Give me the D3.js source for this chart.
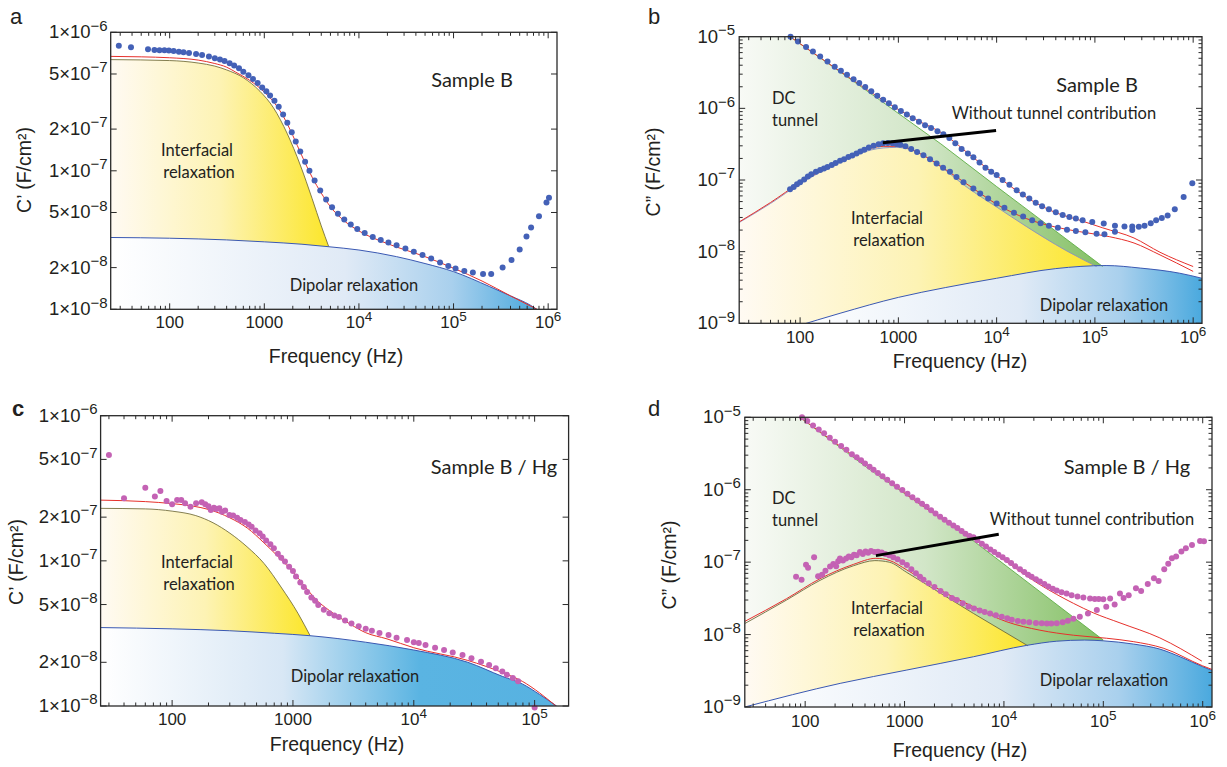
<!DOCTYPE html>
<html><head><meta charset="utf-8">
<script src="https://cdn.jsdelivr.net/npm/d3@7"></script>
<style>body{margin:0;background:#fff}svg{display:block}</style>
</head><body>
<svg id="chart" width="1227" height="767"></svg>
<script>
// ================= DATA (frequency Hz, capacitance F/cm2) =================
// ---- panel a : C' Sample B ----
const aData = [[29,8.0e-7],[39,7.8e-7],[59,7.55e-7],[69,7.45e-7],[78,7.43e-7],[88,7.42e-7],[98,7.4e-7],[110,7.32e-7],[125,7.25e-7],[140,7.18e-7],[160,7.08e-7],[190,6.98e-7],[220,6.85e-7],[260,6.7e-7],[300,6.5e-7],[340,6.35e-7],[380,6.2e-7],[430,5.98e-7],[480,5.75e-7],[540,5.5e-7],[600,5.2e-7],[680,4.9e-7],[760,4.6e-7],[850,4.3e-7],[950,4.0e-7],[1050,3.75e-7],[1150,3.5e-7],[1280,3.2e-7],[1420,2.9e-7],[1580,2.55e-7],[1750,2.22e-7],[1950,1.9e-7],[2150,1.63e-7],[2400,1.38e-7],[2700,1.16e-7],[3000,1.0e-7],[3400,8.5e-8],[3900,7.2e-8],[4500,6.2e-8],[5200,5.45e-8],[6000,4.9e-8],[7000,4.45e-8],[8200,4.1e-8],[9600,3.8e-8],[11500,3.55e-8],[14000,3.33e-8],[17000,3.17e-8],[20500,3.03e-8],[25000,2.9e-8],[31000,2.75e-8],[38000,2.6e-8],[47000,2.47e-8],[58000,2.33e-8],[72000,2.18e-8],[88000,2.05e-8],[105000,1.97e-8],[130000,1.89e-8],[160000,1.84e-8],[205000,1.8e-8],[250000,1.8e-8],[330000,2.0e-8],[410000,2.27e-8],[500000,2.7e-8],[590000,3.35e-8],[660000,3.9e-8],[800000,4.7e-8],[960000,5.9e-8],[1020000,6.4e-8]];
const aFit = [[23.8,6.7e-7],[50,6.65e-7],[100,6.55e-7],[200,6.3e-7],[300,5.95e-7],[400,5.6e-7],[500,5.15e-7],[700,4.5e-7],[1000,3.7e-7],[1300,3.05e-7],[1600,2.45e-7],[2000,1.8e-7],[2500,1.28e-7],[3200,9.0e-8],[4000,6.9e-8],[5000,5.5e-8],[7000,4.35e-8],[10000,3.68e-8],[20000,2.98e-8],[50000,2.4e-8],[100000,1.98e-8],[200000,1.6e-8],[400000,1.25e-8],[760000,1.0e-8]];
const aInterfacial = [[23.8,6.35e-7],[100,6.25e-7],[200,6.0e-7],[300,5.7e-7],[400,5.35e-7],[600,4.7e-7],[900,3.75e-7],[1250,2.85e-7],[1750,1.85e-7],[2400,1.1e-7],[3200,6.3e-8],[4000,4.0e-8],[4800,2.83e-8]];
const aDipolar = [[23.8,3.3e-8],[100,3.26e-8],[400,3.17e-8],[1000,3.07e-8],[2500,2.95e-8],[4800,2.83e-8],[10000,2.68e-8],[25000,2.4e-8],[50000,2.14e-8],[100000,1.87e-8],[240000,1.46e-8],[400000,1.25e-8],[650000,1.07e-8],[760000,1.0e-8]];

// ---- panel b : C'' Sample B ----
const bDataTotal = [[80,1.0e-5],[95,8.6e-6],[115,7.2e-6],[135,6.2e-6],[160,5.3e-6],[190,4.5e-6],[225,3.8e-6],[260,3.35e-6],[300,2.95e-6],[350,2.55e-6],[400,2.25e-6],[460,1.98e-6],[530,1.73e-6],[610,1.5e-6],[700,1.32e-6],[800,1.18e-6],[920,1.04e-6],[1060,9.2e-7],[1220,8.2e-7],[1400,7.3e-7],[1620,6.5e-7],[1870,5.8e-7],[2150,5.3e-7],[2500,4.8e-7],[2870,4.35e-7],[3300,3.85e-7],[3800,3.25e-7],[4400,2.7e-7],[5100,2.35e-7],[5800,2.07e-7],[6700,1.75e-7],[7700,1.48e-7],[8800,1.3e-7],[10000,1.17e-7],[11500,1.0e-7],[13500,8.6e-8],[16000,7.2e-8],[18500,6.3e-8],[21500,5.5e-8],[25000,4.8e-8],[29000,4.3e-8],[34000,3.9e-8],[40000,3.55e-8],[47000,3.25e-8],[55000,3.05e-8],[64000,2.9e-8],[75000,2.75e-8],[94000,2.6e-8],[123000,2.48e-8],[160000,2.3e-8],[200000,2.25e-8],[240000,2.24e-8],[280000,2.22e-8],[320000,2.3e-8],[370000,2.5e-8],[420000,2.75e-8],[480000,2.95e-8],[550000,3.2e-8],[650000,3.9e-8],[800000,5.8e-8],[980000,9.0e-8]];
const bDataNoTunnel = [[79,7.4e-8],[86,8.0e-8],[93,8.7e-8],[100,9.3e-8],[110,1.02e-7],[120,1.12e-7],[130,1.2e-7],[145,1.3e-7],[160,1.38e-7],[175,1.45e-7],[190,1.52e-7],[210,1.62e-7],[230,1.72e-7],[255,1.85e-7],[280,1.95e-7],[310,2.1e-7],[340,2.2e-7],[375,2.35e-7],[410,2.5e-7],[450,2.65e-7],[500,2.85e-7],[560,3.0e-7],[630,3.15e-7],[700,3.25e-7],[780,3.28e-7],[870,3.25e-7],[960,3.18e-7],[1050,3.1e-7],[1180,2.95e-7],[1350,2.7e-7],[1550,2.45e-7],[1800,2.22e-7],[2100,1.95e-7],[2450,1.7e-7],[2850,1.48e-7],[3350,1.3e-7],[3900,1.1e-7],[4600,9.3e-8],[5800,7.6e-8],[6800,6.5e-8],[8200,5.5e-8],[10000,4.7e-8],[12000,4.1e-8],[15000,3.5e-8],[18600,3.1e-8],[23000,2.75e-8],[28000,2.5e-8],[34000,2.3e-8],[42000,2.15e-8],[52000,2.02e-8],[64000,1.94e-8],[80000,1.86e-8],[104000,1.78e-8],[125000,1.75e-8],[160000,1.9e-8],[240000,2.0e-8]];
const bFitTotal = [[79,1.0e-5],[250,3.35e-6],[700,1.3e-6],[1500,7.0e-7],[2870,4.4e-7],[5800,2.05e-7],[10000,1.15e-7],[20000,5.75e-8],[40000,3.5e-8],[70000,2.75e-8],[120000,2.15e-8],[250000,1.55e-8],[460000,9.8e-9],[1000000,6.2e-9]];
const bFitNoTunnel = [[24,2.6e-8],[50,4.85e-8],[100,9.2e-8],[200,1.55e-7],[400,2.45e-7],[700,2.95e-7],[1000,2.95e-7],[1800,2.2e-7],[3350,1.27e-7],[5800,7.6e-8],[10000,4.6e-8],[20000,2.9e-8],[40000,2.2e-8],[70000,1.9e-8],[140000,1.62e-8],[250000,1.32e-8],[460000,9.0e-9],[1000000,5.3e-9]];
const bTunnel = [[24,3.2e-5],[79,1.0e-5],[250,3.3e-6],[650,1.3e-6],[2700,3.2e-7],[10000,8.1e-8],[120000,6.2e-9]];
const bInterfacial = [[24,2.55e-8],[50,4.7e-8],[100,8.9e-8],[200,1.5e-7],[400,2.35e-7],[700,2.8e-7],[950,2.85e-7],[1400,2.6e-7],[2650,1.55e-7],[5000,7.9e-8],[10000,4.2e-8],[20000,2.25e-8],[50000,1.05e-8],[104000,6.2e-9]];
const bDipolar = [[90,9.0e-10],[255,1.38e-9],[1000,2.3e-9],[3000,3.15e-9],[10000,4.25e-9],[40000,5.8e-9],[130000,6.4e-9],[290000,5.9e-9],[730000,5.0e-9],[1230000,4.25e-9]];
const bPointer = [[695,3.3e-7],[9870,4.9e-7]];

// ---- panel c : C' Sample B / Hg ----
const cData = [[30,5.36e-7],[40,2.7e-7],[60,3.19e-7],[72,2.77e-7],[80,3.03e-7],[90,2.58e-7],[100,2.45e-7],[110,2.63e-7],[119,2.63e-7],[128,2.49e-7],[142,2.36e-7],[158,2.49e-7],[176,2.53e-7],[188,2.45e-7],[200,2.38e-7],[209,2.24e-7],[222,2.32e-7],[233,2.28e-7],[246,2.3e-7],[259,2.18e-7],[275,2.22e-7],[298,2.07e-7],[320,2.05e-7],[345,1.98e-7],[368,1.91e-7],[400,1.85e-7],[430,1.78e-7],[455,1.72e-7],[490,1.62e-7],[530,1.55e-7],[562,1.47e-7],[600,1.38e-7],[650,1.3e-7],[695,1.22e-7],[750,1.12e-7],[800,1.05e-7],[859,9.9e-8],[930,9.1e-8],[1000,8.5e-8],[1060,7.8e-8],[1150,7.1e-8],[1230,6.6e-8],[1310,6.1e-8],[1420,5.6e-8],[1525,5.3e-8],[1620,4.97e-8],[1800,4.6e-8],[2000,4.35e-8],[2200,4.2e-8],[2400,4.1e-8],[2700,3.88e-8],[3050,3.7e-8],[3500,3.55e-8],[4000,3.4e-8],[4500,3.3e-8],[5200,3.18e-8],[6180,3.08e-8],[7200,2.95e-8],[8790,2.85e-8],[10000,2.75e-8],[11000,2.72e-8],[12500,2.63e-8],[15000,2.52e-8],[17800,2.43e-8],[21000,2.34e-8],[25300,2.25e-8],[30000,2.13e-8],[36000,2.02e-8],[42000,1.92e-8],[47700,1.82e-8],[54000,1.73e-8],[59000,1.64e-8],[66000,1.56e-8],[73000,1.48e-8],[100000,9.75e-9]];
const cFit = [[25.6,2.62e-7],[60,2.56e-7],[100,2.48e-7],[150,2.38e-7],[200,2.26e-7],[300,1.98e-7],[420,1.68e-7],[576,1.33e-7],[780,1.04e-7],[1000,8.4e-8],[1250,6.7e-8],[1525,5.5e-8],[2000,4.55e-8],[2400,4.1e-8],[3000,3.65e-8],[4000,3.2e-8],[6000,2.9e-8],[10000,2.52e-8],[28000,2.06e-8],[54000,1.7e-8],[79000,1.48e-8],[110000,1.23e-8],[150000,1.0e-8]];
const cInterfacial = [[25.6,2.3e-7],[60,2.28e-7],[100,2.2e-7],[157,2.05e-7],[218,1.83e-7],[301,1.55e-7],[417,1.25e-7],[576,9.6e-8],[797,6.6e-8],[1100,4.35e-8],[1387,3.05e-8]];
const cDipolar = [[25.6,3.47e-8],[100,3.4e-8],[300,3.3e-8],[700,3.17e-8],[1387,3.05e-8],[4000,2.75e-8],[10000,2.43e-8],[28000,2.0e-8],[54000,1.6e-8],[79000,1.42e-8],[110000,1.2e-8],[152000,1.0e-8]];

// ---- panel d : C'' Sample B / Hg ----
const dDataTotal = [[93,1.0e-5],[105,8.9e-6],[120,7.7e-6],[137,6.8e-6],[155,6.0e-6],[177,5.2e-6],[200,4.6e-6],[230,4.0e-6],[260,3.55e-6],[295,3.1e-6],[330,2.8e-6],[365,2.55e-6],[400,2.3e-6],[445,2.07e-6],[488,1.88e-6],[540,1.7e-6],[600,1.53e-6],[670,1.37e-6],[750,1.23e-6],[840,1.1e-6],[950,9.9e-7],[1070,8.8e-7],[1200,7.9e-7],[1350,7.1e-7],[1500,6.4e-7],[1670,5.8e-7],[1850,5.2e-7],[2050,4.7e-7],[2280,4.24e-7],[2530,3.85e-7],[2800,3.5e-7],[3100,3.2e-7],[3400,2.95e-7],[3750,2.7e-7],[4100,2.47e-7],[4500,2.3e-7],[4930,2.2e-7],[5400,2.0e-7],[6000,1.8e-7],[6600,1.64e-7],[7300,1.5e-7],[8000,1.38e-7],[8800,1.27e-7],[9700,1.17e-7],[10700,1.07e-7],[11800,9.7e-8],[13000,8.8e-8],[14500,8.0e-8],[16000,7.3e-8],[17500,6.7e-8],[19000,6.3e-8],[21000,5.8e-8],[23000,5.4e-8],[25500,5.0e-8],[28000,4.6e-8],[31000,4.3e-8],[34000,4.05e-8],[38000,3.85e-8],[42700,3.7e-8],[48000,3.5e-8],[55000,3.35e-8],[63000,3.25e-8],[73500,3.16e-8],[82000,3.1e-8],[90000,3.1e-8],[100000,3.08e-8],[117000,3.16e-8],[147000,3.7e-8],[160000,3.2e-8],[180000,3.5e-8],[213000,4.35e-8],[240000,4.0e-8],[280000,5.0e-8],[323000,6.0e-8],[360000,5.5e-8],[410000,8.0e-8],[450000,9.5e-8],[490000,1.13e-7],[540000,1.2e-7],[610000,1.4e-7],[677000,1.55e-7],[780000,1.73e-7],[940000,1.96e-7],[1030000,1.94e-7]];
const dDataNoTunnel = [[81,6.3e-8],[92,5.7e-8],[102,9.2e-8],[107,8.4e-8],[123,1.17e-7],[135,6.4e-8],[148,6.7e-8],[160,7.6e-8],[178,8.7e-8],[192,9.4e-8],[205,8.8e-8],[215,1.03e-7],[224,1.12e-7],[240,1.05e-7],[258,1.12e-7],[275,1.2e-7],[292,1.17e-7],[310,1.27e-7],[330,1.25e-7],[356,1.38e-7],[380,1.3e-7],[405,1.4e-7],[430,1.35e-7],[460,1.42e-7],[500,1.38e-7],[540,1.39e-7],[590,1.36e-7],[640,1.3e-7],[700,1.25e-7],[770,1.17e-7],[850,1.1e-7],[950,1.0e-7],[1055,9.1e-8],[1170,8.0e-8],[1300,7.0e-8],[1430,6.3e-8],[1553,5.7e-8],[1750,5.1e-8],[2000,4.55e-8],[2300,4.0e-8],[2600,3.6e-8],[3000,3.2e-8],[3360,3.0e-8],[3850,2.7e-8],[4400,2.45e-8],[5000,2.3e-8],[5700,2.15e-8],[6400,2.05e-8],[7260,1.96e-8],[8300,1.85e-8],[9500,1.76e-8],[10800,1.68e-8],[12000,1.6e-8],[13800,1.54e-8],[15700,1.5e-8],[18000,1.48e-8],[21000,1.45e-8],[24000,1.43e-8],[27000,1.42e-8],[30000,1.42e-8],[34000,1.43e-8],[39000,1.48e-8],[44000,1.55e-8],[50000,1.65e-8],[58000,1.76e-8],[70000,1.95e-8],[86000,2.18e-8],[107000,2.42e-8],[130000,2.6e-8]];
const dFitTotal = [[88.6,1.0e-5],[488,1.85e-6],[2280,4.1e-7],[4930,2.1e-7],[10700,1.0e-7],[23000,4.9e-8],[50000,2.7e-8],[79000,2.0e-8],[147000,1.45e-8],[370000,9.0e-9],[980000,4.3e-9]];
const dFitNoTunnel = [[24.7,1.52e-8],[65,3.13e-8],[141,5.9e-8],[305,9.3e-8],[515,1.13e-7],[700,1.06e-7],[1055,7.8e-8],[2280,4.12e-8],[4930,2.42e-8],[10700,1.5e-8],[23000,1.15e-8],[50000,9.8e-9],[108000,8.9e-9],[200000,8.0e-9],[400000,6.5e-9],[1000000,3.7e-9],[1240000,3.3e-9]];
const dTunnel = [[24.7,3.6e-5],[88.6,1.0e-5],[452,1.87e-6],[4570,2.13e-7],[100000,8.4e-9]];
const dInterfacial = [[24.7,1.42e-8],[65,3.0e-8],[141,5.6e-8],[305,8.9e-8],[503,1.05e-7],[700,1.0e-7],[1055,7.2e-8],[2280,3.75e-8],[4930,1.96e-8],[10000,1.1e-8],[17400,7.0e-9]];
const dDipolar = [[24.7,1.0e-9],[225,2.12e-9],[1055,3.24e-9],[4930,4.94e-9],[17000,7.1e-9],[34000,8.1e-9],[65000,8.4e-9],[100000,8.2e-9],[200000,7.4e-9],[370000,6.3e-9],[600000,4.9e-9],[1000000,3.6e-9],[1240000,3.2e-9]];
const dPointer = [[515,1.23e-7],[8870,2.42e-7]];

// ---- ticks & labels ----
const xTicksWide = [100, 1000, 1e4, 1e5, 1e6];
const xTicksC = [100, 1000, 1e4, 1e5];
const yTicksReal = [1e-6, 5e-7, 2e-7, 1e-7, 5e-8, 2e-8, 1e-8];
const yTicksImag = [1e-5, 1e-6, 1e-7, 1e-8, 1e-9];
const panelLetters = ["a", "b", "c", "d"];
const sampleNames = ["Sample B", "Sample B", "Sample B / Hg", "Sample B / Hg"];
const yTitles = ["C\u2019 (F/cm\u00b2)", "C\u201d (F/cm\u00b2)", "C\u2019 (F/cm\u00b2)", "C\u201d (F/cm\u00b2)"];
const xTitle = "Frequency (Hz)";
const regionLabels = ["Interfacial", "relaxation", "Dipolar relaxation", "DC", "tunnel", "Without tunnel contribution"];

// ================= DRAWING =================
const svg = d3.select("#chart");
const defs = svg.append("defs");
const TICK_FONT = "'Liberation Sans', Arial, sans-serif";
const ANN_FONT = "Lato, 'Open Sans', sans-serif";
const INK = "#231f20";

const yellowStops = [[0, "#fffaf3"], [0.5, "#fdf3b4"], [1, "#fce62a"]];
const greenStops = [[0, "#f8faf6"], [0.5, "#d2e6c8"], [1, "#84c064"]];
const blueStopsWide = [[0, "#ffffff"], [0.55, "#e0eaf6"], [0.8, "#a9d0ed"], [1, "#4aa9de"]];
const blueStopsC = [[0, "#ffffff"], [0.4, "#d8e7f5"], [0.7, "#5ab4e2"], [1, "#57b2e1"]];

const panels = [
  {id: "a", idx: 0, left: 110.7, right: 557, top: 32.3, bottom: 309.3, xDomain: [23.8, 1.24e6], yDomain: [1e-8, 1e-6],
   xTicks: xTicksWide, yTicks: yTicksReal, real: true, data: [aData], fits: [aFit], interfacial: aInterfacial, dipolar: aDipolar,
   dotColor: "#4461b7", interColor: "#76703e", blueStops: blueStopsWide,
   letter: [10, 24], ytitle: [26, 170], sample: [472, 87], inter: [197, 156], dip: [354, 291], xtitle: [336, 363], xLabY: 328},
  {id: "b", idx: 1, left: 739.2, right: 1202, top: 36.7, bottom: 323.3, xDomain: [24.0, 1.23e6], yDomain: [1e-9, 1e-5],
   xTicks: xTicksWide, yTicks: yTicksImag, real: false, data: [bDataTotal, bDataNoTunnel], fits: [bFitTotal, bFitNoTunnel],
   interfacial: bInterfacial, dipolar: bDipolar, tunnel: bTunnel, pointer: bPointer,
   dotColor: "#4461b7", interColor: "#8a8fbf", blueStops: blueStopsWide,
   letter: [648, 24], ytitle: [655, 172], sample: [1097, 92], inter: [887, 224], dip: [1104, 311], dc: [772, 104], without: [1054, 119], xtitle: [960, 368], xLabY: 343},
  {id: "c", idx: 2, left: 100.6, right: 568.6, top: 415.7, bottom: 706, xDomain: [25.6, 1.91e5], yDomain: [1e-8, 1e-6],
   xTicks: xTicksC, yTicks: yTicksReal, real: true, data: [cData], fits: [cFit], interfacial: cInterfacial, dipolar: cDipolar,
   dotColor: "#c462b4", interColor: "#76703e", blueStops: blueStopsC,
   letter: [12, 416], ytitle: [18, 562], sample: [494, 474], inter: [197, 568], dip: [355, 682], xtitle: [337, 751], xLabY: 725},
  {id: "d", idx: 3, left: 744.8, right: 1212, top: 417.3, bottom: 707, xDomain: [24.7, 1.24e6], yDomain: [1e-9, 1e-5],
   xTicks: xTicksWide, yTicks: yTicksImag, real: false, data: [dDataTotal, dDataNoTunnel], fits: [dFitTotal, dFitNoTunnel],
   interfacial: dInterfacial, dipolar: dDipolar, tunnel: dTunnel, pointer: dPointer,
   dotColor: "#c462b4", interColor: "#6e6a3c", blueStops: blueStopsWide,
   letter: [648, 416], ytitle: [671, 565], sample: [1127, 474], inter: [887, 614], dip: [1104, 686], dc: [772, 504], without: [1092, 525], xtitle: [960, 757], xLabY: 727}
];

function gradient(id, stops) {
  const lg = defs.append("linearGradient").attr("id", id).attr("x1", 0).attr("x2", 1).attr("y1", 0).attr("y2", 0);
  stops.forEach(s => lg.append("stop").attr("offset", s[0]).attr("stop-color", s[1]));
  return `url(#${id})`;
}

function supText(sel, x, y, base, sup, anchor, size, supSize) {
  const t = sel.append("text").attr("x", x).attr("y", y).attr("text-anchor", anchor)
    .attr("font-family", TICK_FONT).attr("font-size", size).attr("fill", INK);
  t.append("tspan").text(base);
  if (sup) t.append("tspan").attr("dy", -0.42 * size).attr("font-size", supSize).text(sup);
  return t;
}

function annText(sel, x, y, str, anchor, size) {
  return sel.append("text").attr("x", x).attr("y", y).attr("text-anchor", anchor)
    .attr("font-family", ANN_FONT).attr("font-size", size).attr("fill", INK).text(str);
}

panels.forEach(p => {
  const x = d3.scaleLog().domain(p.xDomain).range([p.left, p.right]);
  const y = d3.scaleLog().domain(p.yDomain).range([p.bottom, p.top]);
  const g = svg.append("g");
  const clipId = "clip-" + p.id;
  defs.append("clipPath").attr("id", clipId).append("rect")
    .attr("x", p.left).attr("y", p.top).attr("width", p.right - p.left).attr("height", p.bottom - p.top);
  const plot = g.append("g").attr("clip-path", `url(#${clipId})`);
  const fx = d => x(d[0]), fy = d => y(d[1]);
  const areaSmooth = d3.area().x(fx).y0(p.bottom).y1(fy).curve(d3.curveMonotoneX);
  const areaStraight = d3.area().x(fx).y0(p.bottom).y1(fy).curve(d3.curveLinear);
  const lineSmooth = d3.line().x(fx).y(fy).curve(d3.curveMonotoneX);
  const lineStraight = d3.line().x(fx).y(fy).curve(d3.curveLinear);

  // filled regions
  if (p.tunnel) plot.append("path").datum(p.tunnel).attr("d", areaStraight).attr("fill", gradient(p.id + "-green", greenStops));
  plot.append("path").datum(p.interfacial).attr("d", areaSmooth).attr("fill", gradient(p.id + "-yellow", yellowStops));
  plot.append("path").datum(p.dipolar).attr("d", areaSmooth).attr("fill", gradient(p.id + "-blue", p.blueStops));

  // boundary lines
  if (p.tunnel) plot.append("path").datum(p.tunnel).attr("d", lineStraight).attr("fill", "none").attr("stroke", "#5fae45").attr("stroke-width", 0.9);
  plot.append("path").datum(p.interfacial).attr("d", lineSmooth).attr("fill", "none").attr("stroke", p.interColor).attr("stroke-width", 0.9);
  plot.append("path").datum(p.dipolar).attr("d", lineSmooth).attr("fill", "none").attr("stroke", "#3a58b2").attr("stroke-width", 1);

  // measured points
  p.data.forEach(series => {
    g.append("g").selectAll("circle").data(series).join("circle")
      .attr("cx", fx).attr("cy", fy).attr("r", 3).attr("fill", p.dotColor);
  });

  // fits
  p.fits.forEach(series => {
    plot.append("path").datum(series).attr("d", lineSmooth).attr("fill", "none").attr("stroke", "#e6302b").attr("stroke-width", 1);
  });

  // pointer
  if (p.pointer) g.append("path").datum(p.pointer).attr("d", lineStraight).attr("stroke", "#000").attr("stroke-width", 3).attr("fill", "none");

  // frame
  g.append("rect").attr("x", p.left).attr("y", p.top).attr("width", p.right - p.left).attr("height", p.bottom - p.top)
    .attr("fill", "none").attr("stroke", "#2a2a2a").attr("stroke-width", 1.3);

  // ticks
  const tk = g.append("g").attr("stroke", "#2a2a2a").attr("stroke-width", 1);
  const lo = Math.floor(Math.log10(p.xDomain[0])), hi = Math.ceil(Math.log10(p.xDomain[1]));
  for (let k = lo; k <= hi; k++) {
    for (let m = 1; m <= 9; m++) {
      const v = m * Math.pow(10, k);
      if (v < p.xDomain[0] || v > p.xDomain[1]) continue;
      const len = m === 1 ? 6 : 3.5, xx = x(v);
      tk.append("line").attr("x1", xx).attr("x2", xx).attr("y1", p.bottom).attr("y2", p.bottom - len);
      tk.append("line").attr("x1", xx).attr("x2", xx).attr("y1", p.top).attr("y2", p.top + len);
    }
  }
  if (p.real) {
    p.yTicks.forEach(v => {
      const yy = y(v);
      tk.append("line").attr("x1", p.left).attr("x2", p.left + 6).attr("y1", yy).attr("y2", yy);
      tk.append("line").attr("x1", p.right).attr("x2", p.right - 6).attr("y1", yy).attr("y2", yy);
    });
  } else {
    const ylo = Math.round(Math.log10(p.yDomain[0])), yhi = Math.round(Math.log10(p.yDomain[1]));
    for (let k = ylo; k <= yhi; k++) {
      for (let m = 1; m <= 9; m++) {
        const v = m * Math.pow(10, k);
        if (v > p.yDomain[1] * 1.0001) continue;
        const len = m === 1 ? 6 : 3.5, yy = y(v);
        tk.append("line").attr("x1", p.left).attr("x2", p.left + len).attr("y1", yy).attr("y2", yy);
        tk.append("line").attr("x1", p.right).attr("x2", p.right - len).attr("y1", yy).attr("y2", yy);
      }
    }
  }

  // tick labels
  p.xTicks.forEach(v => {
    const e = Math.round(Math.log10(v));
    if (e < 4) supText(g, x(v), p.xLabY, String(v), null, "middle", 17, 12);
    else supText(g, x(v), p.xLabY, "10", String(e), "middle", 17, 13.5);
  });
  p.yTicks.forEach(v => {
    const e = Math.floor(Math.log10(v) + 1e-9);
    const mant = Math.round(v / Math.pow(10, e));
    if (p.real) supText(g, p.left - 3, y(v) + 6, mant + "\u00d710", "\u2212" + (-e), "end", 18.5, 15);
    else supText(g, p.left - 4, y(v) + 6, "10", "\u2212" + (-e), "end", 18.5, 15);
  });

  // titles
  g.append("text").attr("x", p.letter[0]).attr("y", p.letter[1]).attr("font-family", TICK_FONT)
    .attr("font-size", 22).attr("font-weight", p.id === "c" ? "bold" : "normal").attr("fill", INK).text(panelLetters[p.idx]);
  g.append("text").attr("transform", `translate(${p.ytitle[0]},${p.ytitle[1]}) rotate(-90)`).attr("text-anchor", "middle")
    .attr("dominant-baseline", "middle").attr("font-family", TICK_FONT).attr("font-size", 19.5).attr("fill", INK).text(yTitles[p.idx]);
  g.append("text").attr("x", p.xtitle[0]).attr("y", p.xtitle[1]).attr("text-anchor", "middle")
    .attr("font-family", TICK_FONT).attr("font-size", 19.5).attr("fill", INK).text(xTitle);

  // annotations
  annText(g, p.sample[0], p.sample[1], sampleNames[p.idx], "middle", 20);
  annText(g, p.inter[0], p.inter[1], regionLabels[0], "middle", 16.5);
  annText(g, p.inter[0] + 2, p.inter[1] + 22, regionLabels[1], "middle", 16.5);
  annText(g, p.dip[0], p.dip[1], regionLabels[2], "middle", 16.5);
  if (p.dc) {
    annText(g, p.dc[0], p.dc[1], regionLabels[3], "start", 16.5);
    annText(g, p.dc[0], p.dc[1] + 22, regionLabels[4], "start", 16.5);
  }
  if (p.without) annText(g, p.without[0], p.without[1], regionLabels[5], "middle", 16.5);
});
</script>
</body></html>
